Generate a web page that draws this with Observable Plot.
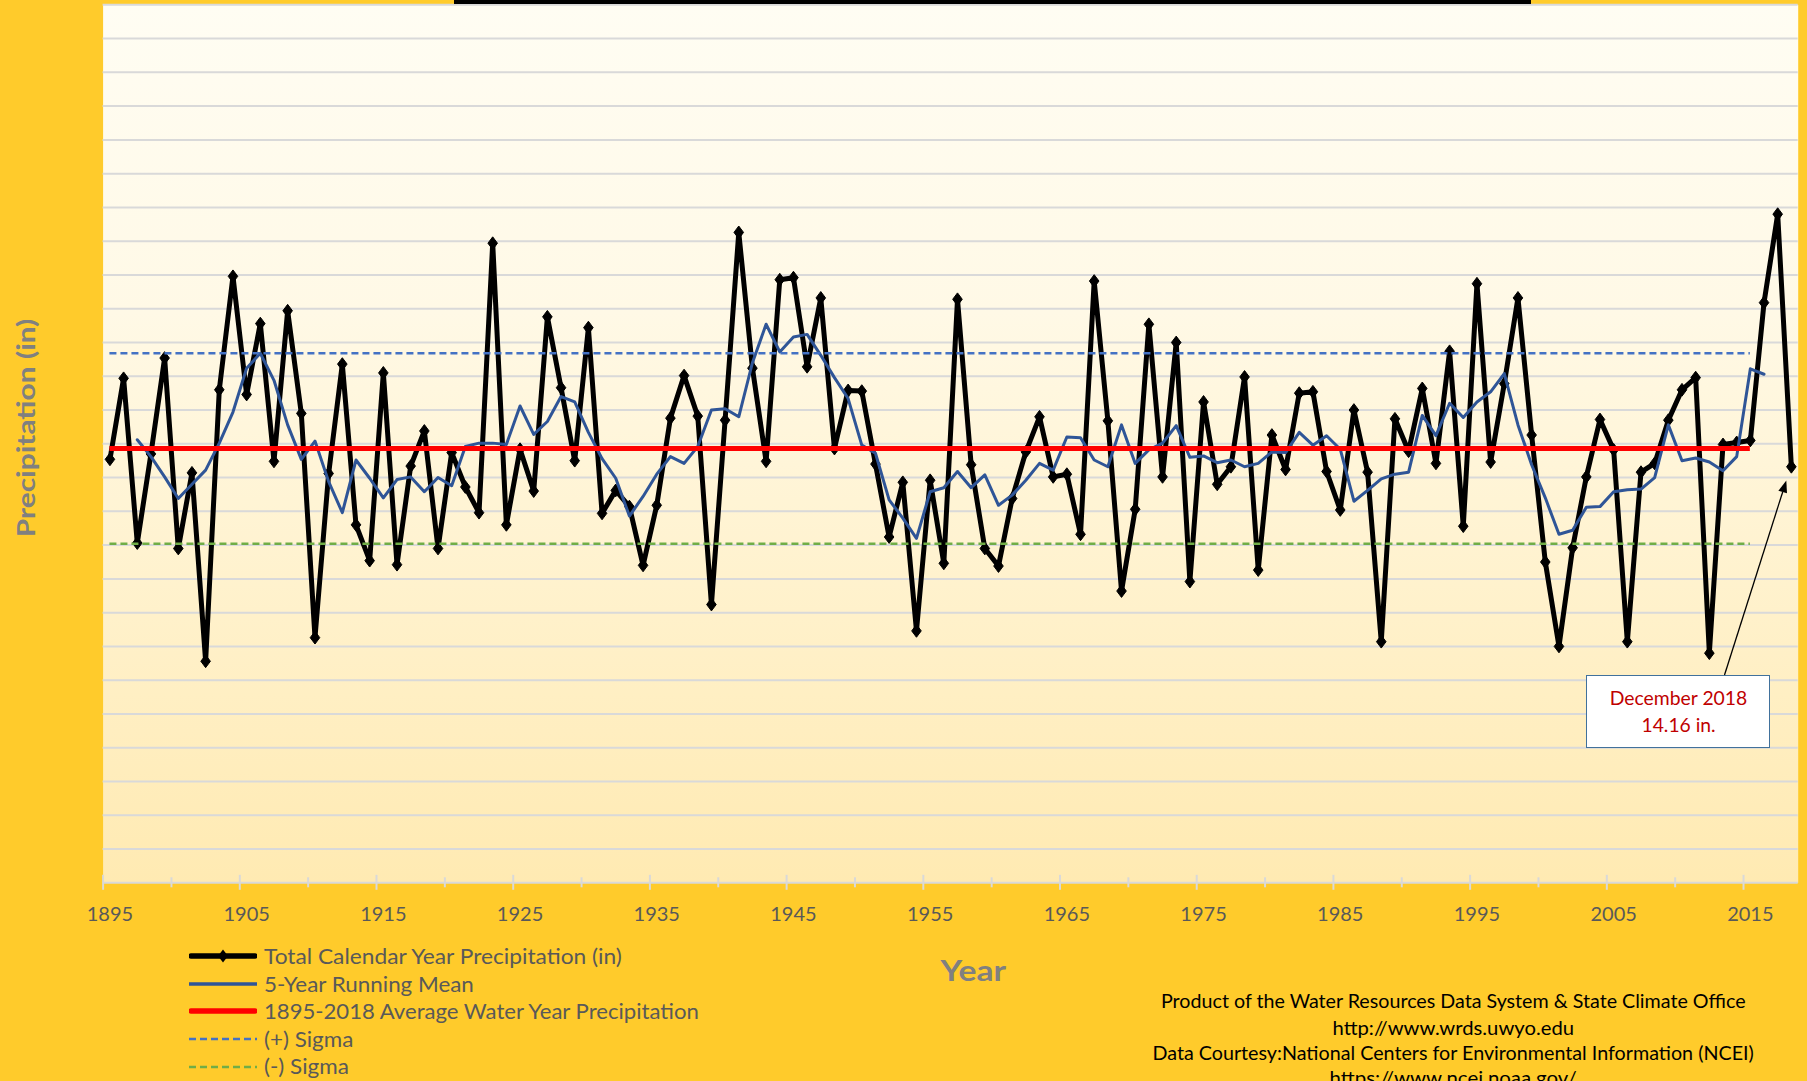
<!DOCTYPE html>
<html>
<head>
<meta charset="utf-8">
<script src="https://cdn.jsdelivr.net/npm/d3@7"></script>
<script src="https://cdn.jsdelivr.net/npm/@observablehq/plot@0.6"></script>
<style>
  html, body { margin: 0; padding: 0; background: #FFCB2B; }
  #wrap { position: relative; width: 1807px; height: 1081px; overflow: hidden; background: #FFCB2B; }
  #wrap svg { display: block; }
  .t { position: absolute; white-space: nowrap; font-family: Lato, "Open Sans", sans-serif; line-height: 1.2; }
</style>
</head>
<body>
<div id="wrap"></div>
<script>
// ---------------- DATA ----------------
const firstYear = 1895;
const lastYear = 2018;
// Total calendar year precipitation (in), 1895-2018
const precip = [
  14.27, 15.47, 13.03, 14.35, 15.77, 12.95, 14.07, 11.28, 15.30, 16.98, // 1895-1904
  15.23, 16.28, 14.24, 16.47, 14.95, 11.63, 14.06, 15.68, 13.30, 12.77, // 1905-1914
  15.55, 12.71, 14.17, 14.69, 12.95, 14.37, 13.86, 13.48, 17.47, 13.30, // 1915-1924
  14.42, 13.80, 16.38, 15.33, 14.25, 16.22, 13.47, 13.81, 13.57, 12.70, // 1925-1934
  13.59, 14.88, 15.51, 14.91, 12.12, 14.85, 17.63, 15.62, 14.24, 16.93, // 1935-1944
  16.96, 15.64, 16.66, 14.43, 15.29, 15.28, 14.20, 13.12, 13.93, 11.73, // 1945-1954
  13.96, 12.73, 16.64, 14.19, 12.95, 12.69, 13.69, 14.38, 14.90, 14.01, // 1955-1964
  14.05, 13.16, 16.91, 14.84, 12.32, 13.53, 16.27, 14.01, 16.00, 12.46, // 1965-1974
  15.12, 13.90, 14.16, 15.49, 12.63, 14.63, 14.12, 15.25, 15.27, 14.09, // 1975-1984
  13.52, 15.00, 14.08, 11.57, 14.87, 14.39, 15.32, 14.21, 15.87, 13.28, // 1985-1994
  16.87, 14.23, 15.39, 16.66, 14.63, 12.75, 11.50, 12.96, 14.01, 14.86, // 1995-2004
  14.41, 11.57, 14.08, 14.21, 14.85, 15.30, 15.48, 11.40, 14.49, 14.52, // 2005-2014
  14.55, 16.59, 17.90, 14.16                                            // 2015-2018
];
// 5-year running mean, 1897-2016
const runFirstYear = 1897;
const runMean = [
  14.56, 14.31, 14.01, 13.69, 13.90, 14.11, 14.51, 14.97, 15.62, 15.84, // 1897-1906
  15.44, 14.78, 14.27, 14.54, 13.94, 13.48, 14.26, 13.99, 13.70, 13.97, // 1907-1916
  14.01, 13.79, 14.00, 13.88, 14.46, 14.51, 14.51, 14.49, 15.06, 14.64, // 1917-1926
  14.83, 15.20, 15.12, 14.67, 14.28, 13.99, 13.43, 13.72, 14.05, 14.31, // 1927-1936
  14.21, 14.46, 15.00, 15.02, 14.90, 15.70, 16.27, 15.86, 16.08, 16.12, // 1937-1946
  15.81, 15.48, 15.17, 14.48, 14.36, 13.67, 13.40, 13.10, 13.79, 13.85, // 1947-1956
  14.09, 13.85, 14.04, 13.59, 13.74, 13.96, 14.21, 14.11, 14.60, 14.59, // 1957-1966
  14.26, 14.16, 14.78, 14.21, 14.41, 14.51, 14.77, 14.30, 14.32, 14.22, // 1967-1976
  14.26, 14.16, 14.21, 14.38, 14.37, 14.67, 14.48, 14.62, 14.42, 13.65, // 1977-1986
  13.81, 13.98, 14.05, 14.08, 14.92, 14.62, 15.10, 14.89, 15.12, 15.27, // 1987-1996
  15.54, 14.78, 14.19, 13.70, 13.16, 13.22, 13.56, 13.57, 13.79, 13.82, // 1997-2006
  13.83, 14.00, 14.78, 14.25, 14.29, 14.23, 14.10, 14.31, 15.61, 15.53  // 2007-2016
];
// Reference lines
const avgPrecip = 14.43;
const plusSigma = 15.84;
const minusSigma = 13.02;
const refStart = 1895;
const refEnd = 2015;
// Axis
const yMin = 8, yMax = 21, yGridStep = 0.5;
const xTickLabels = [1895, 1905, 1915, 1925, 1935, 1945, 1955, 1965, 1975, 1985, 1995, 2005, 2015];
// Legend / texts
const legendLabels = [
  "Total Calendar Year Precipitation (in)",
  "5-Year Running Mean",
  "1895-2018 Average Water Year Precipitation",
  "(+) Sigma",
  "(-) Sigma"
];
const creditLines = [
  "Product of the Water Resources Data System & State Climate Office",
  "http://www.wrds.uwyo.edu",
  "Data Courtesy:National Centers for Environmental Information (NCEI)",
  "https://www.ncei.noaa.gov/"
];
const annotationLines = ["December 2018", "14.16 in."];
const annotationYear = 2018;
const annotationValue = 14.16;

// ---------------- TABLES ----------------
const years = d3.range(firstYear, lastYear + 1);
const series = years.map((year, i) => ({year, value: precip[i]}));
const running = runMean.map((value, i) => ({year: runFirstYear + i, value}));
const gridValues = d3.range(yMin, yMax + 1e-9, yGridStep);
const bounds = d3.range(firstYear - 0.5, lastYear, 5);          // category boundaries every 5 years
const majorBounds = bounds.filter((d, i) => i % 2 === 0);
const minorBounds = bounds.filter((d, i) => i % 2 === 1);

// Excel-like diamond marker
const diamond = {
  draw(ctx, size) {
    const s = Math.sqrt(size);
    const w = s * 0.45, h = s * 0.6;
    ctx.moveTo(0, -h); ctx.lineTo(w, 0); ctx.lineTo(0, h); ctx.lineTo(-w, 0); ctx.closePath();
  }
};

const W = 1807, H = 1081;
const chart = Plot.plot({
  width: W, height: H,
  marginLeft: 102.6, marginRight: 9.3, marginTop: 4.3, marginBottom: 198.7,
  style: {background: "transparent", fontFamily: "Lato, 'Open Sans', sans-serif", fontSize: "20px", overflow: "visible"},
  x: {domain: [firstYear - 0.5, lastYear + 0.5], label: null},
  y: {domain: [yMin, yMax], label: null, axis: null},
  marks: [
    Plot.frame({fill: "url(#plotBg)", stroke: "none"}),
    Plot.gridY(gridValues, {stroke: "#D9D9D9", strokeOpacity: 1, strokeWidth: 2}),
    Plot.axisX(majorBounds, {tickSize: 15, dy: -7.5, stroke: "#D9D9D9", strokeWidth: 2, tickFormat: () => ""}),
    Plot.axisX(minorBounds, {tickSize: 10, dy: -5, stroke: "#D9D9D9", strokeWidth: 2, tickFormat: () => ""}),
    Plot.axisX(xTickLabels, {tickSize: 0, tickPadding: 23.7, tickFormat: d => String(d), fill: "#595959", fontSize: 20}),
    Plot.line(series, {x: "year", y: "value", stroke: "#000000", strokeWidth: 5}),
    Plot.dot(series, {x: "year", y: "value", symbol: diamond, r: 6, fill: "#000000", stroke: "#000000", strokeWidth: 1}),
    Plot.line(running, {x: "year", y: "value", stroke: "#2F5597", strokeWidth: 3}),
    Plot.ruleY([avgPrecip], {y: d => d, x1: refStart, x2: refEnd, stroke: "#FF0000", strokeWidth: 5}),
    Plot.ruleY([plusSigma], {y: d => d, x1: refStart, x2: refEnd, stroke: "#4472C4", strokeWidth: 2.5, strokeDasharray: "7,4"}),
    Plot.ruleY([minusSigma], {y: d => d, x1: refStart, x2: refEnd, stroke: "#70AD47", strokeWidth: 2.5, strokeDasharray: "7,4"})
  ]
});

const wrap = document.getElementById("wrap");
wrap.appendChild(chart);

// gradient background for plot area
const NS = "http://www.w3.org/2000/svg";
const defs = document.createElementNS(NS, "defs");
defs.innerHTML = `<linearGradient id="plotBg" x1="0" y1="0" x2="0" y2="1">
  <stop offset="0" stop-color="#FFFDF3"/>
  <stop offset="0.35" stop-color="#FFF9E6"/>
  <stop offset="1" stop-color="#FFEAB2"/>
</linearGradient>`;
chart.insertBefore(defs, chart.firstChild);

// ---------------- OVERLAY TEXT ----------------
function place(text, {x, y, size, weight = 400, color, width, align = "left", rotate = false}) {
  const el = document.createElement("div");
  el.className = "t";
  el.textContent = text;
  el.style.fontSize = size + "px";
  el.style.fontWeight = weight;
  el.style.color = color;
  wrap.appendChild(el);
  const w = el.offsetWidth, h = el.offsetHeight;
  const k = width ? width / w : 1;
  if (rotate) {
    el.style.left = (x - w / 2) + "px";
    el.style.top = (y - h / 2) + "px";
    el.style.transformOrigin = "50% 50%";
    el.style.transform = `rotate(-90deg) scaleX(${k})`;
  } else if (align === "center") {
    el.style.left = (x - w / 2) + "px";
    el.style.top = (y - 0.629 * size) + "px";
    el.style.transformOrigin = "50% 50%";
    el.style.transform = `scaleX(${k})`;
  } else {
    el.style.left = x + "px";
    el.style.top = (y - 0.629 * size) + "px";
    el.style.transformOrigin = "0 50%";
    el.style.transform = `scaleX(${k})`;
  }
  return el;
}

// title box bottom edge (box sits above the visible area)
const titleBar = document.createElement("div");
Object.assign(titleBar.style, {position: "absolute", left: "454px", top: "0px", width: "1077px", height: "4px", background: "#000"});
wrap.appendChild(titleBar);

// axis titles
place("Precipitation (in)", {x: 25, y: 427.5, size: 25, weight: 700, color: "#808080", width: 219, rotate: true});
place("Year", {x: 973, y: 971, size: 29, weight: 700, color: "#808080", width: 66, align: "center"});

// legend
const legendY = [956, 984, 1011, 1039, 1066.5];
const legendW = [358, 210, 435, 89.6, 84.5];
const swatches = [
  `<line x1="2" y1="8" x2="66" y2="8" stroke="#000" stroke-width="5.5" stroke-linecap="round"/><path d="M34,1.5 L39,8 L34,14.5 L29,8 Z" fill="#000"/>`,
  `<line x1="0" y1="8" x2="68" y2="8" stroke="#2F5597" stroke-width="3.4"/>`,
  `<line x1="2" y1="8" x2="66" y2="8" stroke="#FF0000" stroke-width="5.5" stroke-linecap="round"/>`,
  `<line x1="0" y1="8" x2="68" y2="8" stroke="#4472C4" stroke-width="2.6" stroke-dasharray="7,4"/>`,
  `<line x1="0" y1="8" x2="68" y2="8" stroke="#70AD47" stroke-width="2.6" stroke-dasharray="7,4"/>`
];
legendLabels.forEach((label, i) => {
  const s = document.createElementNS(NS, "svg");
  s.setAttribute("width", 68); s.setAttribute("height", 16);
  Object.assign(s.style, {position: "absolute", left: "189px", top: (legendY[i] - 8) + "px"});
  s.innerHTML = swatches[i];
  wrap.appendChild(s);
  place(label, {x: 264, y: legendY[i], size: 21, color: "#595959", width: legendW[i]});
});

// credits
const creditY = [1001, 1028, 1053, 1078];
const creditW = [585, 242, 601, 247];
creditLines.forEach((line, i) => place(line, {x: 1453, y: creditY[i], size: 20, color: "#000", width: creditW[i], align: "center"}));

// annotation box + arrow
const box = document.createElement("div");
Object.assign(box.style, {position: "absolute", left: "1586px", top: "675px", width: "182px", height: "71px",
  background: "#FFFFFF", border: "1.5px solid #41719C"});
wrap.appendChild(box);
place(annotationLines[0], {x: 1678, y: 699, size: 19, color: "#C00000", width: 137.5, align: "center"});
place(annotationLines[1], {x: 1678, y: 726, size: 19, color: "#C00000", width: 74, align: "center"});

const px = chart.scale("x").apply(annotationYear);
const py = chart.scale("y").apply(annotationValue);
const bx = 1724.5, by = 675;
const dx = bx - px, dy = by - py, len = Math.hypot(dx, dy);
const ux = dx / len, uy = dy / len;
const tipX = px + ux * 15, tipY = py + uy * 15;
const headL = 12, headW = 4.5;
const baseX = tipX + ux * headL, baseY = tipY + uy * headL;
const arrow = document.createElementNS(NS, "svg");
arrow.setAttribute("width", W); arrow.setAttribute("height", H);
Object.assign(arrow.style, {position: "absolute", left: "0px", top: "0px", pointerEvents: "none"});
arrow.innerHTML = `<line x1="${bx}" y1="${by}" x2="${baseX}" y2="${baseY}" stroke="#000" stroke-width="1.3"/>
  <path d="M${tipX},${tipY} L${baseX - uy * headW},${baseY + ux * headW} L${baseX + uy * headW},${baseY - ux * headW} Z" fill="#000"/>`;
wrap.appendChild(arrow);
</script>
</body>
</html>
